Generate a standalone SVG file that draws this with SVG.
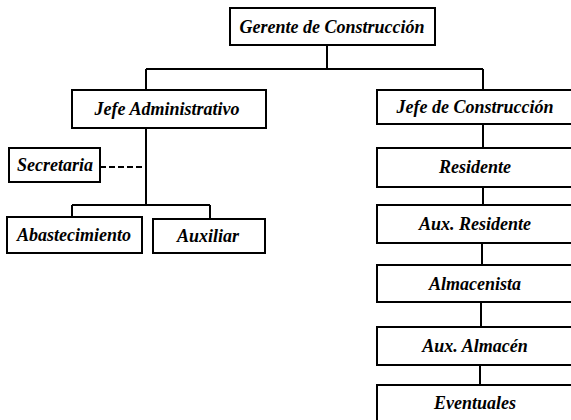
<svg xmlns="http://www.w3.org/2000/svg" width="571" height="420" viewBox="0 0 571 420">
  <style>
    .box { fill: #fff; stroke: #000; stroke-width: 2; }
    .lbl { font-family: "Liberation Serif", "DejaVu Serif", serif; font-style: italic; font-weight: bold; font-size: 18px; fill: #000; text-anchor: middle; }
    .wire { fill: none; stroke: #000; stroke-width: 2; }
    .dash { fill: none; stroke: #000; stroke-width: 2; stroke-dasharray: 6 3; }
  </style>
  <rect width="571" height="420" fill="#fff"/>

  <!-- connectors -->
  <g id="connectors">
    <path class="wire" d="M327 45 V69 M146 69 H483 M146 69 V90 M483 69 V90"/>
    <path class="wire" d="M146 128 V205 M72 205 H210 M72 205 V217 M210 205 V219"/>
    <path class="dash" d="M100 167 H146"/>
    <path class="wire" d="M483 124 V148 M483 187 V205 M482 243 V265 M481 302 V327 M480 365 V385"/>
  </g>

  <g id="gerente">
    <rect class="box" x="230" y="8" width="205" height="37"/>
    <text class="lbl" x="332" y="33">Gerente de Construcción</text>
  </g>
  <g id="jefe-admin">
    <rect class="box" x="72" y="90" width="194" height="38"/>
    <text class="lbl" x="167" y="115">Jefe Administrativo</text>
  </g>
  <g id="secretaria">
    <rect class="box" x="9" y="148" width="91" height="34"/>
    <text class="lbl" x="55" y="171">Secretaria</text>
  </g>
  <g id="abastecimiento">
    <rect class="box" x="7" y="217" width="135" height="36"/>
    <text class="lbl" x="74" y="241">Abastecimiento</text>
  </g>
  <g id="auxiliar">
    <rect class="box" x="153" y="219" width="112" height="34"/>
    <text class="lbl" x="208" y="242">Auxiliar</text>
  </g>
  <g id="jefe-construccion">
    <rect class="box" x="377" y="90" width="200" height="34"/>
    <text class="lbl" x="475" y="113">Jefe de Construcción</text>
  </g>
  <g id="residente">
    <rect class="box" x="377" y="148" width="200" height="39"/>
    <text class="lbl" x="475" y="173">Residente</text>
  </g>
  <g id="aux-residente">
    <rect class="box" x="377" y="205" width="200" height="38"/>
    <text class="lbl" x="475" y="230">Aux. Residente</text>
  </g>
  <g id="almacenista">
    <rect class="box" x="377" y="265" width="200" height="37"/>
    <text class="lbl" x="475" y="290">Almacenista</text>
  </g>
  <g id="aux-almacen">
    <rect class="box" x="377" y="327" width="200" height="38"/>
    <text class="lbl" x="475" y="352">Aux. Almacén</text>
  </g>
  <g id="eventuales">
    <rect class="box" x="377" y="385" width="200" height="40"/>
    <text class="lbl" x="475" y="409">Eventuales</text>
  </g>
</svg>
